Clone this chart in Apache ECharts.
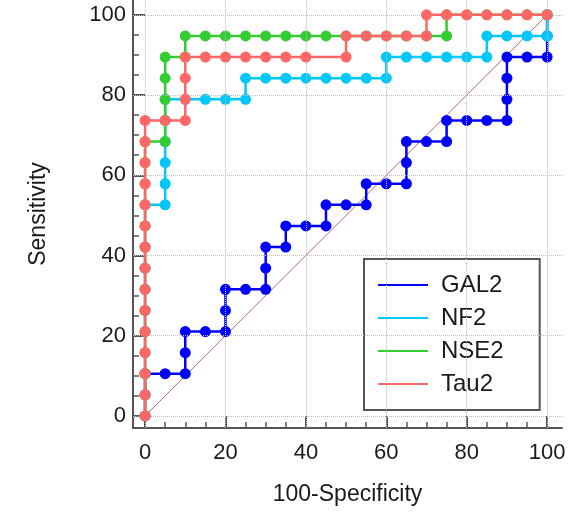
<!DOCTYPE html>
<html>
<head>
<meta charset="utf-8">
<script src="https://cdn.jsdelivr.net/npm/echarts@6/dist/echarts.min.js"></script>
<style>
  html, body { margin: 0; padding: 0; background: #fff; }
  #chart { width: 579px; height: 513px; }
</style>
</head>
<body>
<div id="chart"></div>
<script>
// ROC curves: [100-Specificity, Sensitivity] points per marker
const seriesNames = ['GAL2', 'NF2', 'NSE2', 'Tau2'];

const gal2 = [
  [0, 0], [0, 5.26], [0, 10.53], [5, 10.53], [10, 10.53], [10, 15.79], [10, 21.05],
  [15, 21.05], [20, 21.05], [20, 26.32], [20, 31.58], [25, 31.58], [30, 31.58],
  [30, 36.84], [30, 42.11], [35, 42.11], [35, 47.37], [40, 47.37], [45, 47.37],
  [45, 52.63], [50, 52.63], [55, 52.63], [55, 57.89], [60, 57.89], [65, 57.89],
  [65, 63.16], [65, 68.42], [70, 68.42], [75, 68.42], [75, 73.68], [80, 73.68],
  [85, 73.68], [90, 73.68], [90, 78.95], [90, 84.21], [90, 89.47], [95, 89.47],
  [100, 89.47], [100, 94.74], [100, 100]
];

const nf2 = [
  [0, 0], [0, 5.26], [0, 10.53], [0, 15.79], [0, 21.05], [0, 26.32], [0, 31.58],
  [0, 36.84], [0, 42.11], [0, 47.37], [0, 52.63], [5, 52.63], [5, 57.89], [5, 63.16],
  [5, 68.42], [5, 73.68], [5, 78.95], [10, 78.95], [15, 78.95], [20, 78.95],
  [25, 78.95], [25, 84.21], [30, 84.21], [35, 84.21], [40, 84.21], [45, 84.21],
  [50, 84.21], [55, 84.21], [60, 84.21], [60, 89.47], [65, 89.47], [70, 89.47],
  [75, 89.47], [80, 89.47], [85, 89.47], [85, 94.74], [90, 94.74], [95, 94.74],
  [100, 94.74], [100, 100]
];

const nse2 = [
  [0, 0], [0, 5.26], [0, 10.53], [0, 15.79], [0, 21.05], [0, 26.32], [0, 31.58],
  [0, 36.84], [0, 42.11], [0, 47.37], [0, 52.63], [0, 57.89], [0, 63.16], [0, 68.42],
  [5, 68.42], [5, 73.68], [5, 78.95], [5, 84.21], [5, 89.47], [10, 89.47], [10, 94.74],
  [15, 94.74], [20, 94.74], [25, 94.74], [30, 94.74], [35, 94.74], [40, 94.74],
  [45, 94.74], [50, 94.74], [55, 94.74], [60, 94.74], [65, 94.74], [70, 94.74],
  [75, 94.74], [75, 100], [80, 100], [85, 100], [90, 100], [95, 100], [100, 100]
];

const tau2 = [
  [0, 0], [0, 5.26], [0, 10.53], [0, 15.79], [0, 21.05], [0, 26.32], [0, 31.58],
  [0, 36.84], [0, 42.11], [0, 47.37], [0, 52.63], [0, 57.89], [0, 63.16], [0, 68.42],
  [0, 73.68], [5, 73.68], [10, 73.68], [10, 78.95], [10, 84.21], [10, 89.47],
  [15, 89.47], [20, 89.47], [25, 89.47], [30, 89.47], [35, 89.47], [40, 89.47],
  [50, 89.47], [50, 94.74], [55, 94.74], [60, 94.74], [65, 94.74], [70, 94.74],
  [70, 100], [75, 100], [80, 100], [85, 100], [90, 100], [95, 100], [100, 100]
];

// reference (chance) diagonal
const diagonal = [[0, 0], [100, 100]];

// tick positions
const majorTicks = [0, 20, 40, 60, 80, 100];
const minorTicks = [5, 10, 15, 25, 30, 35, 45, 50, 55, 65, 70, 75, 85, 90, 95];

const colors = ['#0000ff', '#00c8ff', '#33cc33', '#ff6666'];
const FONT = '"Liberation Sans", Arial, sans-serif';
const AXIS_COLOR = '#555';
const AX_MIN = -3, AX_MAX = 103.7;

function mainAxis(name, isX) {
  return {
    type: 'value',
    min: AX_MIN,
    max: AX_MAX,
    position: isX ? 'bottom' : 'left',
    axisLine: { show: true, onZero: false, lineStyle: { color: AXIS_COLOR, width: 2 } },
    axisTick: { show: true, inside: true, length: 12, customValues: majorTicks,
                lineStyle: { color: AXIS_COLOR, width: 2 } },
    axisLabel: { show: true, customValues: majorTicks, fontSize: 22, color: '#1a1a1a',
                 fontFamily: FONT, margin: isX ? 14 : 7 },
    splitLine: { show: false },
    name: name,
    nameLocation: 'middle',
    nameGap: isX ? 55 : 83,
    nameRotate: isX ? 0 : 90,
    nameTextStyle: { fontSize: 23, color: '#1a1a1a', fontFamily: FONT }
  };
}

function minorAxis(isX) {
  return {
    type: 'value',
    min: AX_MIN,
    max: AX_MAX,
    position: isX ? 'bottom' : 'left',
    axisLine: { show: false, onZero: false },
    axisTick: { show: true, inside: true, length: 6, customValues: minorTicks,
                lineStyle: { color: AXIS_COLOR, width: 1.5 } },
    axisLabel: { show: false },
    splitLine: { show: false }
  };
}

const gridLines = majorTicks.map(v => ({ xAxis: v }))
  .concat(majorTicks.map(v => ({ yAxis: v })));

const curves = [gal2, nf2, nse2, tau2];

const option = {
  animation: false,
  backgroundColor: '#fff',
  grid: { left: 133, right: 17, top: 0, bottom: 85 },
  xAxis: [mainAxis('100-Specificity', true), minorAxis(true)],
  yAxis: [mainAxis('Sensitivity', false), minorAxis(false)],
  legend: {
    orient: 'vertical',
    left: 364,
    top: 259,
    padding: [14, 36, 14, 14],
    itemWidth: 50,
    itemHeight: 14,
    itemGap: 9,
    borderColor: AXIS_COLOR,
    borderWidth: 2,
    borderRadius: 0,
    backgroundColor: '#fff',
    textStyle: { fontSize: 24, color: '#1a1a1a', fontFamily: FONT, padding: [0, 0, 0, 8] },
    data: seriesNames.map(n => ({ name: n, icon: 'path://M0,0H50V2H0Z' }))
  },
  series: [
    {
      name: 'diagonal',
      type: 'line',
      data: diagonal,
      symbol: 'none',
      silent: true,
      z: 1,
      lineStyle: { color: '#b46a6a', width: 1 },
      markLine: {
        silent: true,
        symbol: ['none', 'none'],
        label: { show: false },
        lineStyle: { color: '#bdbdbd', width: 1, type: 'dotted' },
        data: gridLines
      }
    }
  ].concat(curves.map((d, i) => ({
    name: seriesNames[i],
    type: 'line',
    data: d,
    z: 2 + i,
    symbol: 'circle',
    symbolSize: 11,
    showSymbol: true,
    itemStyle: { color: colors[i] },
    lineStyle: { color: colors[i], width: 2.5 }
  })))
};

const chart = echarts.init(document.getElementById('chart'), null, { renderer: 'canvas' });
chart.setOption(option);
</script>
</body>
</html>
